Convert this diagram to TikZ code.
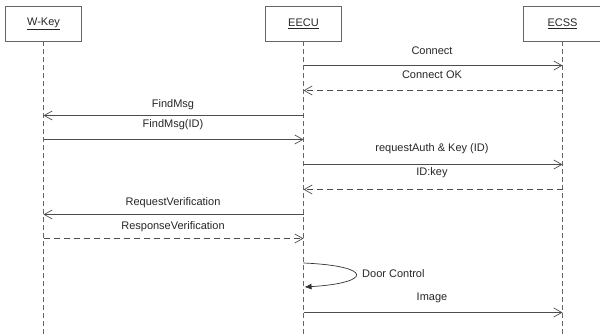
\documentclass[tikz,border=0pt]{standalone}
\usepackage{fontspec}
\setmainfont{Liberation Sans}
\usetikzlibrary{arrows.meta}
\tikzset{
  lifebox/.style={draw=black!60,line width=0.7pt,minimum width=76pt,minimum height=35pt,inner sep=0pt,text=black!85},
  lifeline/.style={draw=black!60,line width=0.7pt,dash pattern=on 5pt off 3pt},
  msg/.style={draw=black!70,line width=0.7pt,-{Straight Barb[length=8pt,width=9pt]}},
  reply/.style={msg,dash pattern=on 6pt off 4pt},
  msglabel/.style={text=black!85,inner sep=0pt},
}

\begin{document}
\begin{tikzpicture}[x=1pt,y=-1pt,font=\fontsize{11}{13}\selectfont]
  \useasboundingbox (0,0) rectangle (600,334);
  % lifelines
  \node[lifebox] (wkey) at (43.5,23.5) {\underline{W-Key}};
  \node[lifebox] (eecu) at (303.5,23.5) {\underline{EECU}};
  \node[lifebox,minimum width=78pt] (ecss) at (562.5,23.5) {\underline{ECSS}};
  \coordinate (wkeyend) at (43.5,334);
  \coordinate (eecuend) at (303.5,334);
  \coordinate (ecssend) at (562.5,334);
  \draw[lifeline] (wkey.south) -- (wkeyend);
  \draw[lifeline] (eecu.south) -- (eecuend);
  \draw[lifeline] (ecss.south) -- (ecssend);
  % messages
  \draw[msg] (eecu.south |- 0,65.5) -- (ecss.south |- 0,65.5);
  \node[msglabel] (connect) at (432,51) {Connect};
  \draw[reply] (ecss.south |- 0,90.5) -- (eecu.south |- 0,90.5);
  \node[msglabel] (connectok) at (432,75) {Connect OK};
  \draw[msg] (eecu.south |- 0,115.5) -- (wkey.south |- 0,115.5);
  \node[msglabel] (findmsg) at (173,105) {FindMsg};
  \draw[msg] (wkey.south |- 0,139.5) -- (eecu.south |- 0,139.5);
  \node[msglabel] (findmsgid) at (173,125) {FindMsg(ID)};
  \draw[msg] (eecu.south |- 0,164.5) -- (ecss.south |- 0,164.5);
  \node[msglabel] (reqauth) at (432,149) {requestAuth \& Key (ID)};
  \draw[reply] (ecss.south |- 0,189.5) -- (eecu.south |- 0,189.5);
  \node[msglabel] (idkey) at (432,173) {ID:key};
  \draw[msg] (eecu.south |- 0,214.5) -- (wkey.south |- 0,214.5);
  \node[msglabel] (reqverif) at (173,203) {RequestVerification};
  \draw[reply] (wkey.south |- 0,238.5) -- (eecu.south |- 0,238.5);
  \node[msglabel] (respverif) at (173,227) {ResponseVerification};
  % self call
  \coordinate (selfstart) at (303.5,263);
  \coordinate (selfend) at (304.5,287);
  \draw[draw=black!80,line width=0.7pt,-{Latex[length=7pt,width=6pt]}] (selfstart) .. controls (374,266) and (372,283) .. (selfend);
  \node[msglabel,anchor=west] (doorctrl) at (362,274) {Door Control};
  \draw[msg] (eecu.south |- 0,312.5) -- (ecss.south |- 0,312.5);
  \node[msglabel] (image) at (432,298) {Image};
\end{tikzpicture}
\end{document}
